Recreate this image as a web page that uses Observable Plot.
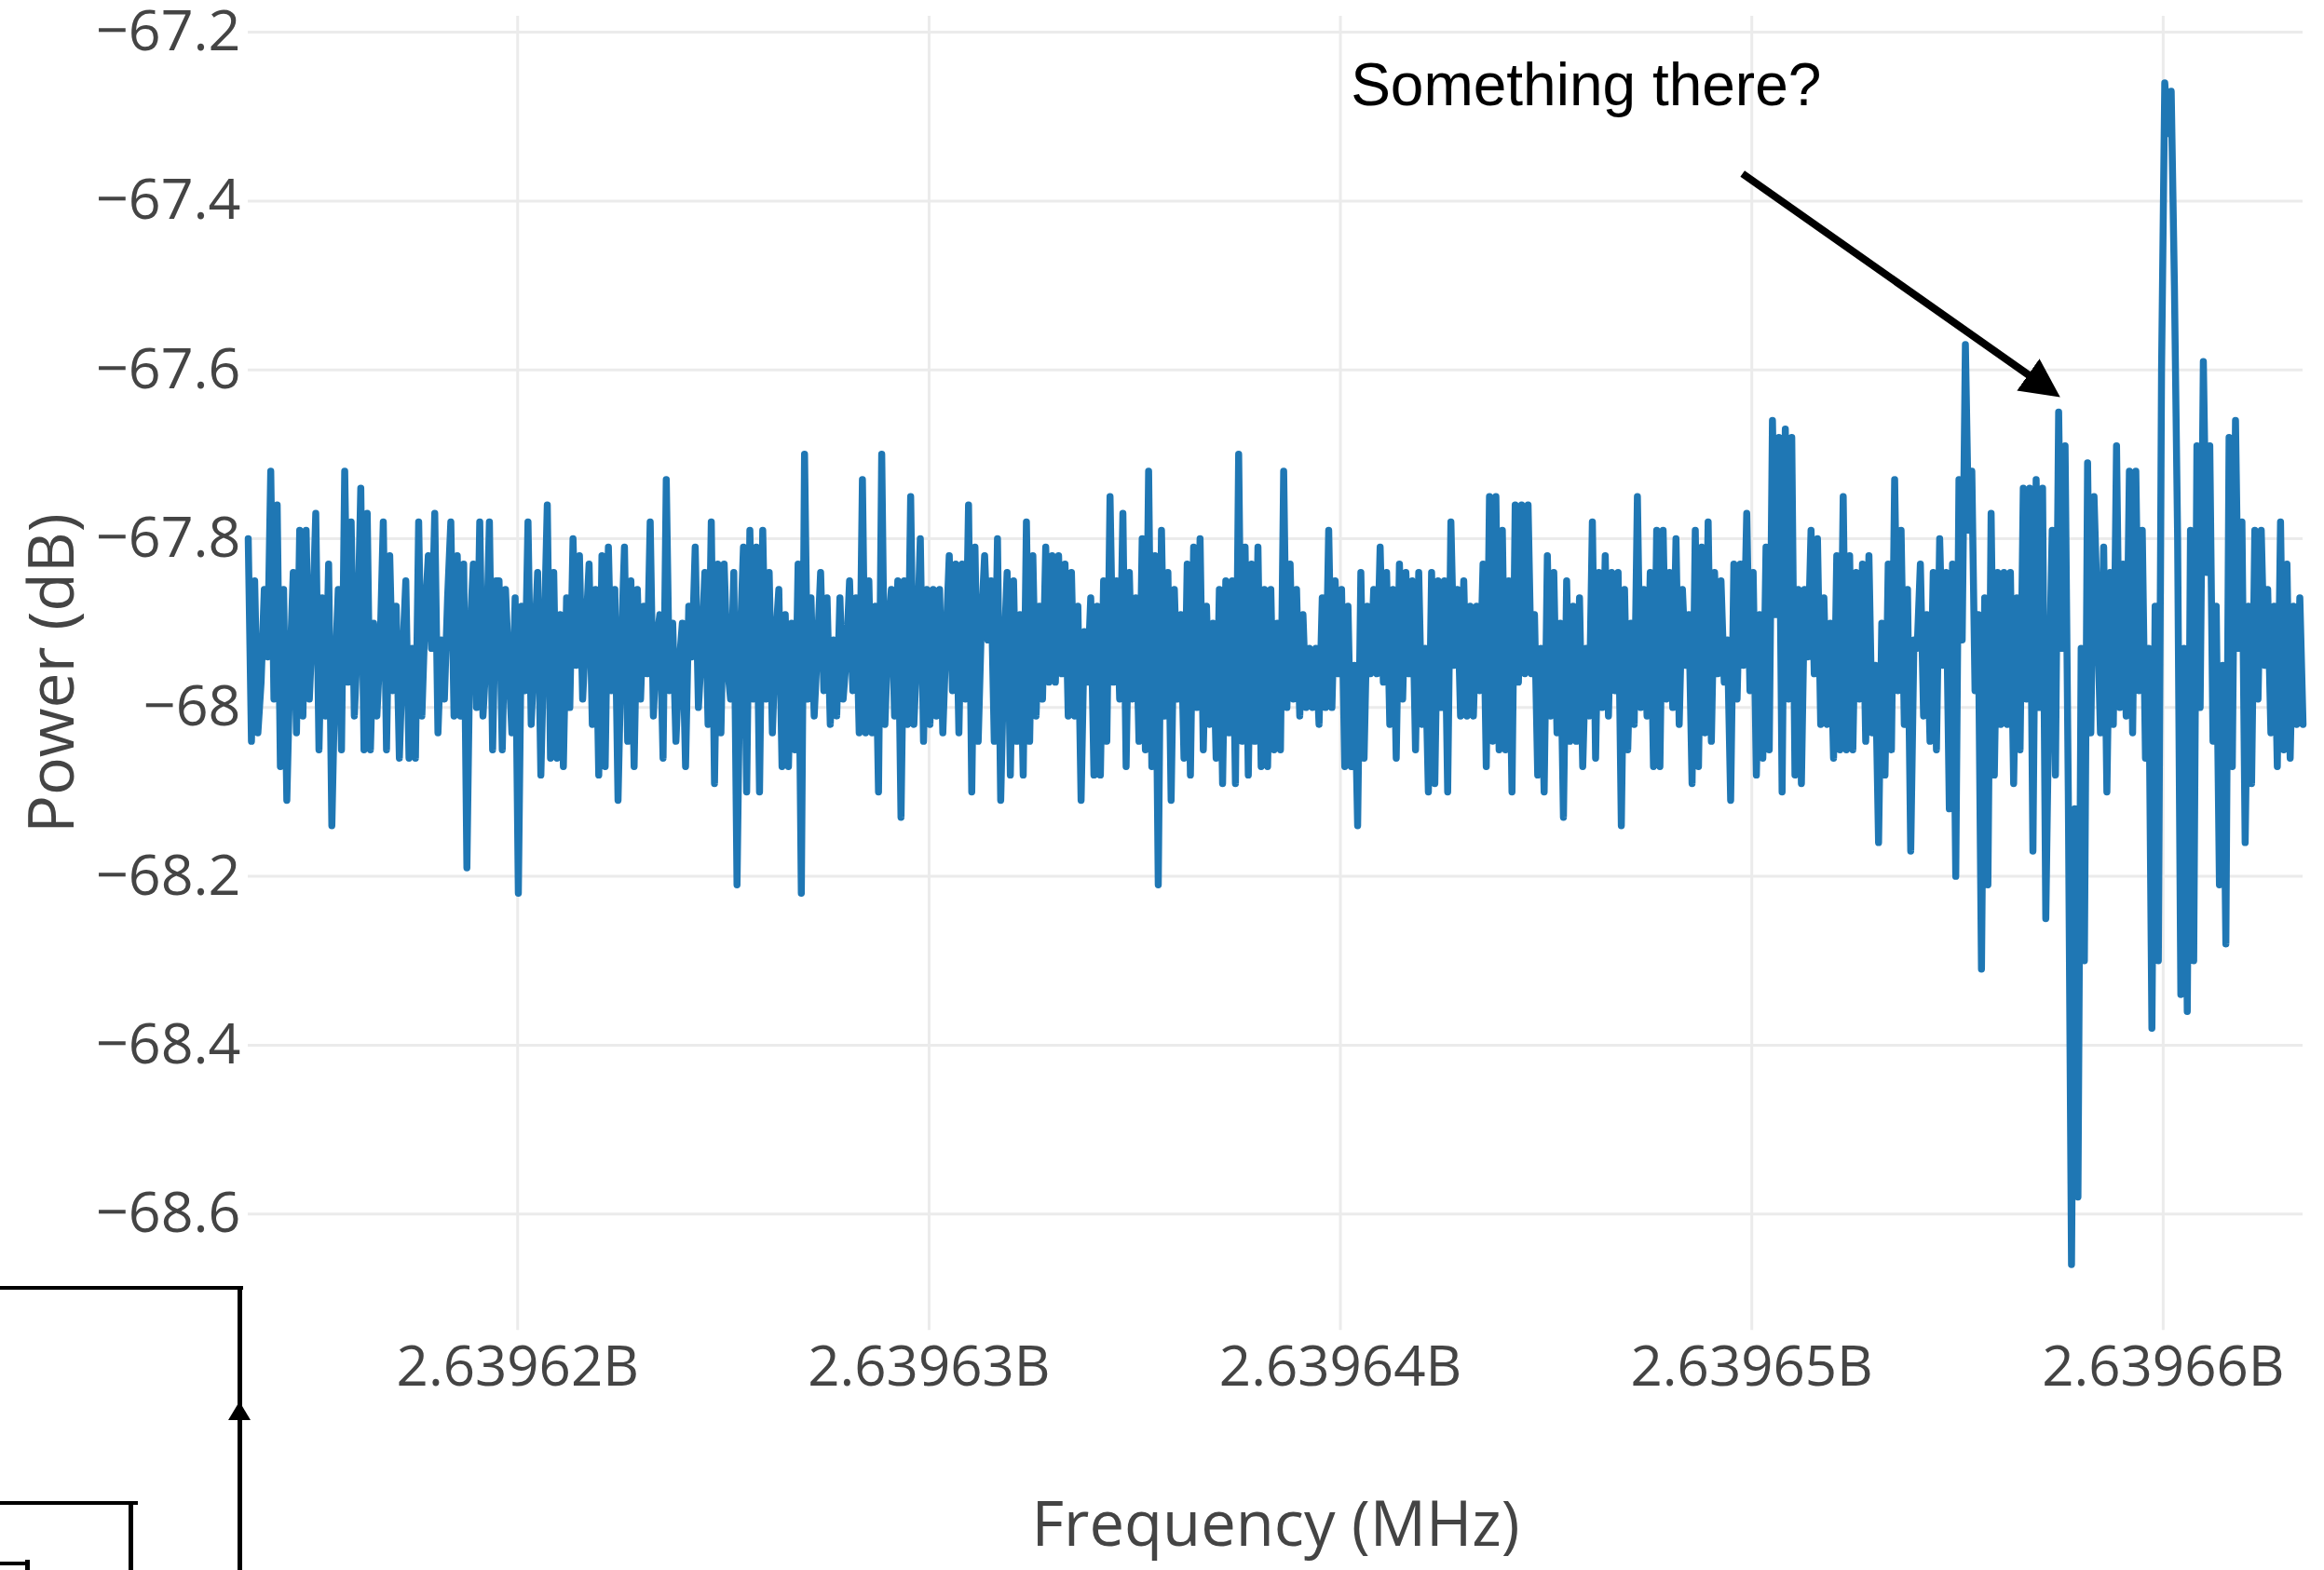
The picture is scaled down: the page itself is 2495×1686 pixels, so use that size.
<!DOCTYPE html>
<html><head><meta charset="utf-8">
<script src="https://cdn.jsdelivr.net/npm/d3@7"></script>
<script src="https://cdn.jsdelivr.net/npm/@observablehq/plot@0.6"></script>
<style>
html,body{margin:0;padding:0;background:#fff;}
#wrap{position:relative;width:2495px;height:1686px;overflow:hidden;background:#fff;}
.ln{position:absolute;background:#000;}
.tri{position:absolute;width:0;height:0;border-left:12.5px solid transparent;border-right:12.5px solid transparent;border-bottom:20px solid #000;}
</style></head><body><div id="wrap"></div>
<script>
// Power readings (dB), read left-to-right off the reference, in eight consecutive stretches of the sweep
const powerSeg1 = [-67.80,-68.04,-67.85,-68.03,-67.97,-67.86,-67.94,-67.72,-67.99,-67.76,
-68.07,-67.86,-68.11,-67.95,-67.84,-68.03,-67.79,-68.01,-67.79,-67.99,
-67.90,-67.77,-68.05,-67.87,-68.01,-67.83,-68.14,-67.96,-67.86,-68.05,
-67.72,-67.97,-67.78,-68.01,-67.92,-67.74,-68.05,-67.77,-68.05,-67.90,
-68.01,-67.93,-67.78,-68.05,-67.82,-67.98,-67.88,-68.06,-67.94,-67.85,
-68.06,-67.93,-68.06,-67.78,-68.01,-67.89,-67.82,-67.93,-67.77,-68.03,
-67.92,-67.99,-67.87,-67.78,-68.01,-67.82,-68.01,-67.83,-68.19,-67.91,
-67.83,-68.00,-67.78,-68.01,-67.94,-67.78,-68.05,-67.85];
const powerSeg2 = [-67.85,-68.05,-67.86,-67.95,-68.03,-67.87,-68.22,-67.88,-67.98,-67.78,-68.02,-67.93,
-67.84,-68.08,-67.92,-67.76,-68.06,-67.84,-68.06,-67.89,-68.07,-67.87,-68.00,
-67.80,-67.95,-67.82,-67.99,-67.91,-67.83,-68.02,-67.86,-68.08,-67.82,-68.07,
-67.81,-67.98,-67.86,-68.11,-67.93,-67.81,-68.04,-67.85,-68.07,-67.86,-67.99,
-67.88,-67.96,-67.78,-68.01,-67.92,-67.89,-68.06,-67.73,-67.98,-67.90,-68.04,-67.95,
-67.90,-68.07,-67.88,-67.94,-67.81,-68.00,-67.93,-67.84,-68.02,-67.78,-68.09,
-67.83,-68.03,-67.83,-67.95,-67.99,-67.84,-68.21,-67.92,-67.81,-68.10,-67.79,-67.99];
const powerSeg3 = [-67.81,-68.10,-67.79,-67.99,-67.84,-68.03,-67.92,-67.86,-68.07,-67.89,-68.07,
-67.90,-68.05,-67.83,-68.22,-67.70,-67.99,-67.87,-68.01,-67.93,-67.84,-67.98,
-67.87,-68.02,-67.92,-68.01,-67.87,-67.99,-67.94,-67.85,-67.98,-67.87,-68.03,
-67.73,-68.03,-67.85,-68.03,-67.88,-68.10,-67.70,-68.02,-67.91,-67.86,-68.01,
-67.85,-68.13,-67.85,-68.02,-67.75,-68.02,-67.93,-67.80,-68.04,-67.86,-68.02,
-67.86,-68.01,-67.86,-68.03,-67.92,-67.82,-67.98,-67.83,-68.03,-67.83,-67.99,
-67.76,-68.10,-67.81,-68.04,-67.90,-67.82,-67.92,-67.85,-68.04,-67.80,-68.11,-67.94,-67.84,-68.08];
const powerSeg4 = [-67.85,-68.04,-67.89,-68.08,-67.78,-68.04,-67.82,-68.01,-67.88,-67.99,
-67.81,-67.97,-67.82,-67.97,-67.82,-67.96,-67.83,-68.01,-67.84,-68.01,
-67.88,-68.11,-67.91,-67.97,-67.87,-68.08,-67.88,-68.08,-67.85,-68.04,
-67.75,-67.97,-67.85,-67.99,-67.77,-68.07,-67.84,-67.99,-67.87,-68.04,
-67.80,-68.05,-67.72,-68.07,-67.82,-68.21,-67.79,-68.01,-67.84,-68.11,
-67.86,-67.99,-67.89,-68.06,-67.83,-68.08,-67.81,-68.00,-67.80,-68.05,
-67.88,-68.02,-67.90,-68.06,-67.86,-68.09,-67.85,-68.03,-67.85,-68.09,
-67.70,-68.04,-67.81,-68.08,-67.83,-68.04,-67.81,-68.07,-67.86,-68.07];
const powerSeg5 = [-67.86,-68.05,-67.90,-68.05,-67.72,-68.00,-67.83,-67.99,-67.86,-68.01,
-67.89,-68.00,-67.93,-68.00,-67.93,-68.02,-67.87,-68.00,-67.79,-68.00,
-67.85,-67.96,-67.86,-68.07,-67.88,-68.07,-67.95,-68.14,-67.84,-68.06,
-67.88,-67.96,-67.86,-67.96,-67.81,-67.97,-67.84,-68.02,-67.86,-68.06,
-67.83,-67.99,-67.84,-67.96,-67.85,-68.05,-67.84,-68.02,-67.93,-68.10,
-67.84,-68.09,-67.85,-68.00,-67.85,-68.10,-67.78,-67.95,-67.86,-68.01,
-67.85,-68.01,-67.88,-68.01,-67.88,-67.98,-67.83,-68.07,-67.75,-68.04,
-67.75,-68.05,-67.79,-68.05,-67.85,-68.10,-67.76,-67.97,-67.76,-67.96];
const powerSeg6 = [-67.76,-67.96,-67.89,-68.08,-67.93,-68.10,-67.82,-68.01,-67.84,-68.03,
-67.90,-68.13,-67.85,-68.04,-67.88,-68.04,-67.87,-68.07,-67.93,-68.01,
-67.78,-68.06,-67.84,-68.00,-67.82,-68.01,-67.84,-67.98,-67.84,-68.14,
-67.86,-68.05,-67.90,-68.02,-67.75,-68.00,-67.86,-68.01,-67.84,-68.07,
-67.79,-68.07,-67.79,-67.99,-67.84,-68.00,-67.80,-68.02,-67.86,-67.95,
-67.89,-68.09,-67.79,-68.07,-67.81,-68.03,-67.78,-68.04,-67.84,-67.96,
-67.85,-67.97,-67.92,-68.11,-67.83,-67.99,-67.83,-67.95,-67.77,-67.98,
-67.84,-68.08,-67.89,-68.06,-67.81,-68.05,-67.66,-67.89,-67.68,-68.10];
const powerSeg7 = [-67.67,-67.99,-67.68,-68.08,-67.86,-68.09,-67.86,-67.94,-67.79,-67.96,
-67.80,-68.02,-67.87,-68.02,-67.90,-68.06,-67.82,-68.05,
-67.75,-68.05,-67.82,-68.05,-67.84,-67.99,-67.83,-68.04,
-67.82,-68.03,-67.95,-68.16,-67.90,-68.08,-67.83,-68.05,
-67.73,-67.98,-67.79,-68.02,-67.86,-68.17,-67.92,-67.93,-67.83,-68.01,
-67.89,-68.04,-67.84,-68.05,-67.80,-67.95,-67.84,-68.12,
-67.83,-68.20,-67.73,-67.92,-67.57,-67.79,-67.72,-67.98,-67.89,-68.31,
-67.87,-68.21,-67.77,-68.08,-67.84,-68.02,-67.84,-68.02,-67.84,-68.09,-67.87,-68.05,-67.74,-67.99,-67.74,-68.17];
const powerSeg8 = [-67.73,-68.00,-67.74,-68.25,-67.98,-67.79,-68.08,-67.65,-67.93,-67.69,
-68.10,-68.66,-68.12,-68.58,-67.93,-68.30,-67.71,-68.03,-67.75,-67.88,
-68.03,-67.81,-68.10,-67.84,-68.02,-67.69,-68.00,-67.83,-68.01,-67.72,
-68.03,-67.72,-67.98,-67.79,-68.06,-67.93,-68.38,-67.88,-68.30,-67.60,
-67.26,-67.32,-67.27,-67.50,-67.80,-68.34,-67.93,-68.36,-67.79,-68.30,
-67.69,-68.00,-67.59,-67.84,-67.69,-68.04,-67.88,-68.21,-67.95,-68.28,
-67.68,-68.07,-67.66,-67.93,-67.78,-68.16,-67.88,-68.09,-67.79,-67.99,
-67.79,-67.95,-67.86,-68.03,-67.88,-68.07,-67.78,-68.05,-67.83,-68.06,
-67.88,-68.02,-67.87,-68.02];

const sweepStartHz = 2639613450;
const sweepStopHz = 2639663400;
const xTickValues = [2639620000, 2639630000, 2639640000, 2639650000, 2639660000];
const yTickValues = [-67.2, -67.4, -67.6, -67.8, -68, -68.2, -68.4, -68.6];
const xTitle = ["Frequency (MHz)"];
const yTitle = ["Power (dB)"];
const notes = [{freq: 2639640251, power: -67.264, label: "Something there?"}];
const noteArrow = [{f1: 2639649774, p1: -67.3675, f2: 2639656952, p2: -67.6137}];

const powerDb = [].concat(powerSeg1, powerSeg2, powerSeg3, powerSeg4, powerSeg5, powerSeg6, powerSeg7, powerSeg8);
const binHz = (sweepStopHz - sweepStartHz) / (powerDb.length - 1);
const spectrum = powerDb.map((p, i) => ({freq: sweepStartHz + i * binHz, power: p}));

const fmtX = d => (d / 1e9).toFixed(5) + "B";
const fmtY = d => (d < 0 ? "\u2212" : "") + String(Math.abs(d));

const chart = Plot.plot({
  width: 2495, height: 1686,
  marginLeft: 266, marginRight: 23, marginTop: 16.9, marginBottom: 257.7,
  style: {fontFamily: "'Open Sans', sans-serif", color: "#444", background: "transparent", overflow: "visible"},
  x: {domain: [sweepStartHz, sweepStopHz], label: null},
  y: {domain: [-68.738, -67.181], label: null},
  marks: [
    Plot.gridY(yTickValues, {stroke: "#ebebeb", strokeOpacity: 1, strokeWidth: 3}),
    Plot.gridX(xTickValues, {stroke: "#ebebeb", strokeOpacity: 1, strokeWidth: 3}),
    Plot.axisX(xTickValues, {tickSize: 0, tickPadding: 17, tickFormat: fmtX, fontSize: 60, label: null}),
    Plot.axisY(yTickValues, {tickSize: 0, tickPadding: 8, tickFormat: fmtY, fontSize: 61, label: null}),
    Plot.line(spectrum, {x: "freq", y: "power", stroke: "#1f77b4", strokeWidth: 7.5, strokeLinejoin: "round", strokeLinecap: "round"}),
    Plot.text(xTitle, {frameAnchor: "bottom", textAnchor: "middle", lineAnchor: "middle", dy: 210, fontSize: 67, fill: "#444"}),
    Plot.text(yTitle, {frameAnchor: "left", textAnchor: "middle", lineAnchor: "middle", dx: -209, rotate: -90, fontSize: 68, fill: "#444"}),
    Plot.link(noteArrow, {x1: "f1", y1: "p1", x2: "f2", y2: "p2", stroke: "black", strokeWidth: 8}),
    Plot.text(notes, {x: "freq", y: "power", text: "label", textAnchor: "start", fontSize: 64,
      fontFamily: "'Liberation Sans', Arial, sans-serif", fill: "black"})
  ]
});

const svg = d3.select(chart);
const defs = svg.insert("defs", ":first-child");
defs.append("marker").attr("id", "annoHead").attr("viewBox", "0 0 10 10")
  .attr("refX", 3).attr("refY", 5).attr("markerUnits", "userSpaceOnUse")
  .attr("markerWidth", 42).attr("markerHeight", 42).attr("orient", "auto")
  .append("path").attr("d", "M0,0L10,5L0,10Z").attr("fill", "black");
svg.selectAll('g[aria-label="link"] path').attr("marker-end", "url(#annoHead)").attr("stroke-linecap", "butt");

const wrap = document.getElementById("wrap");
wrap.appendChild(chart);

// fragments of a neighbouring diagram visible at the bottom-left edge of the screenshot
[[0,1381,261,4],[255,1381,5,305],[0,1612,148,4],[138,1612,5,74],[0,1677,32,4],[27,1675,5,11]].forEach(([l,t,w,h]) => {
  const d = document.createElement("div"); d.className = "ln";
  Object.assign(d.style, {left: l + "px", top: t + "px", width: w + "px", height: h + "px"});
  wrap.appendChild(d);
});
const tri = document.createElement("div"); tri.className = "tri";
Object.assign(tri.style, {left: "245px", top: "1505px"});
wrap.appendChild(tri);
</script></body></html>
